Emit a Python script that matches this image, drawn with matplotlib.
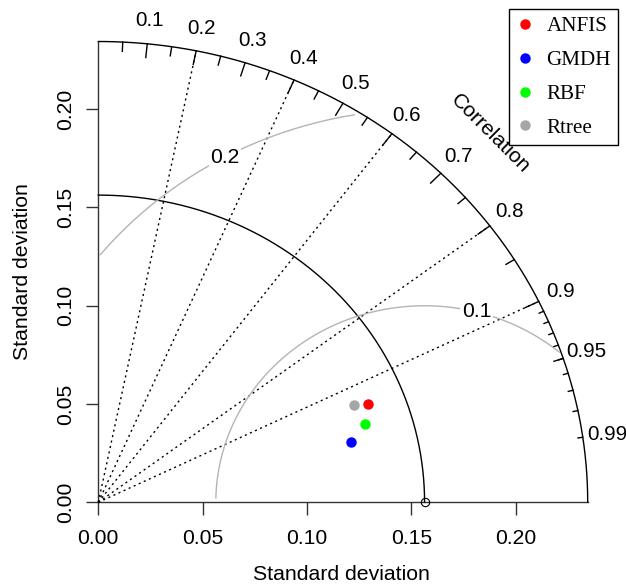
import numpy as np
import matplotlib
matplotlib.use("Agg")
from matplotlib import pyplot as plt

# model statistics (standard deviation and correlation with observations)
models = ["ANFIS", "GMDH", "RBF", "Rtree"]
model_colors = ["#FF0000", "#0000FF", "#00FF00", "#A6A6A6"]
model_sd = [0.1384, 0.1251, 0.1336, 0.1321]
model_corr = [0.933, 0.969, 0.955, 0.927]

ref_sd = 0.1563
max_sd = 1.5 * ref_sd

corr_lines = [0.2, 0.4, 0.6, 0.8, 0.9]
corr_labels = [0.1, 0.2, 0.3, 0.4, 0.5, 0.6, 0.7, 0.8, 0.9, 0.95, 0.99]
rms_levels = [0.1, 0.2]
sd_ticks = [0.0, 0.05, 0.10, 0.15, 0.20]

plt.rcParams["font.family"] = ["Liberation Sans", "DejaVu Sans"]
W, H = 626, 588
fig = plt.figure(figsize=(W / 100, H / 100), dpi=100)
ax = fig.add_axes([98.3 / W, 1 - 502.3 / H, (587.7 - 98.3) / W, (502.3 - 41.5) / H])
ax.set_xlim(0, max_sd)
ax.set_ylim(0, max_sd)
for s in ax.spines.values():
    s.set_visible(False)

axcol = "#333333"
ax.plot([0, max_sd], [0, 0], color=axcol, lw=1, clip_on=False)
ax.plot([0, 0], [0, max_sd], color=axcol, lw=1, clip_on=False)

ax.set_xticks(sd_ticks)
ax.set_xticklabels([f"{t:.2f}" for t in sd_ticks])
ax.set_yticks(sd_ticks)
ax.set_yticklabels([f"{t:.2f}" for t in sd_ticks], rotation=90, va="center")
ax.tick_params(length=9, width=1, color=axcol, labelsize=15.2, direction="out")
ax.tick_params(axis="x", pad=10)
ax.tick_params(axis="y", pad=8)

# outer arc and reference sd arc
theta = np.linspace(0, np.pi / 2, 300)
ax.plot(max_sd * np.cos(theta), max_sd * np.sin(theta), color="k", lw=1, clip_on=False)
ax.plot(ref_sd * np.cos(theta), ref_sd * np.sin(theta), color="k", lw=1, clip_on=False)

# dotted correlation rays
for c in corr_lines:
    ax.plot([0, max_sd * c], [0, max_sd * np.sqrt(1 - c * c)], color="k", lw=1,
            dashes=(1.5, 2.5), clip_on=False)

# correlation ticks
def arc_ticks(vals, inner):
    a = np.arccos(np.asarray(vals))
    for ang in a:
        ax.plot([max_sd * np.cos(ang), inner * max_sd * np.cos(ang)],
                [max_sd * np.sin(ang), inner * max_sd * np.sin(ang)],
                color="k", lw=1, clip_on=False)

arc_ticks(np.arange(0.1, 0.91, 0.1), 0.97)
arc_ticks(np.arange(0.05, 0.96, 0.1), 0.98)
arc_ticks(np.arange(0.91, 0.995, 0.01), 0.99)

for c in corr_labels:
    ang = np.arccos(c)
    ax.text(1.05 * max_sd * np.cos(ang), 1.05 * max_sd * np.sin(ang), f"{c:g}",
            ha="center", va="center", fontsize=14.8, clip_on=False)
ax.text(0.8 * max_sd, 0.8 * max_sd, "Correlation", rotation=-45, ha="center",
        va="center", fontsize=15.2, rotation_mode="anchor")

# centred RMS difference contours
t = np.arange(0, np.pi, 0.03)
for g, li in zip(rms_levels, [44, 69]):
    xc = ref_sd + g * np.cos(t)
    yc = g * np.sin(t)
    m = (xc >= 0) & (xc ** 2 + yc ** 2 <= max_sd ** 2)
    ax.plot(xc[m], yc[m], color="#B4B4B4", lw=1)
    ax.text(xc[li], yc[li], f"{g:g}", ha="center", va="center", fontsize=15.2,
            bbox=dict(facecolor="white", edgecolor="none", pad=1), zorder=3)

# reference point
ax.plot(ref_sd, 0, "o", mfc="none", mec="k", mew=0.8, ms=6, clip_on=False, zorder=4)

handles = []
for name, col, sd, r in zip(models, model_colors, model_sd, model_corr):
    (h,) = ax.plot(sd * r, sd * np.sqrt(1 - r * r), "o", color=col, ms=6.5,
                   linestyle="none", zorder=5)
    handles.append(h)

leg = ax.legend(handles, models, loc="upper right",
                bbox_to_anchor=(618.3 / W, 1 - 9.3 / H), bbox_transform=fig.transFigure,
                prop={"family": "Liberation Serif", "size": 15.2}, frameon=True,
                fancybox=False, edgecolor="k", framealpha=1, borderaxespad=0,
                handlelength=0.8, handletextpad=0.6, labelspacing=0.66, borderpad=0.35)
leg.get_frame().set_linewidth(1)

fig.text(341.5 / W, 1 - 575 / H, "Standard deviation", ha="center", va="center", fontsize=15.3)
fig.text(23 / W, 1 - 272 / H, "Standard deviation", ha="center", va="center",
         rotation=90, fontsize=15.3)

fig.savefig("out.png", dpi=100, facecolor="w")
